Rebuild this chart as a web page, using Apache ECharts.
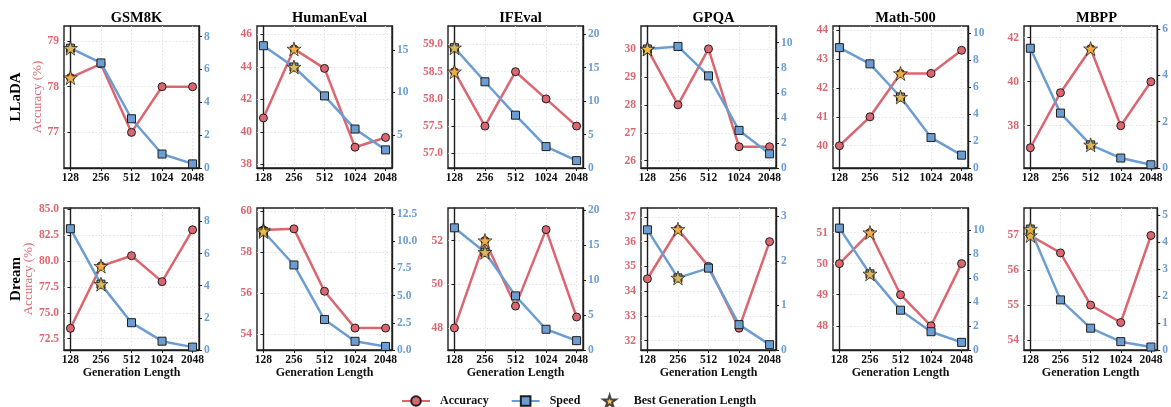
<!DOCTYPE html>
<html><head><meta charset="utf-8">
<script src="https://cdn.jsdelivr.net/npm/echarts@6/dist/echarts.min.js"></script>
<style>html,body{margin:0;padding:0;background:#fff}#c{width:1171px;height:407px}</style>
</head><body><div id="c"></div>
<script>
// ---------------- DATA ----------------
const genLengths = ['128', '256', '512', '1024', '2048'];
const benchmarks = ['GSM8K', 'HumanEval', 'IFEval', 'GPQA', 'Math-500', 'MBPP'];
const models = ['LLaDA', 'Dream'];

// LLaDA accuracy (%) and speed
const lladaGsm8kAcc = [78.2, 78.5, 77.0, 78.0, 78.0];
const lladaGsm8kSpeed = [7.3, 6.4, 3.0, 0.85, 0.25];
const lladaHumanevalAcc = [40.85, 45.1, 43.9, 39.05, 39.65];
const lladaHumanevalSpeed = [15.5, 13.0, 9.6, 5.7, 3.25];
const lladaIfevalAcc = [58.5, 57.5, 58.5, 58.0, 57.5];
const lladaIfevalSpeed = [18.0, 12.9, 7.9, 3.2, 1.1];
const lladaGpqaAcc = [30.0, 28.0, 30.0, 26.5, 26.5];
const lladaGpqaSpeed = [9.5, 9.7, 7.35, 3.0, 1.13];
const lladaMathAcc = [40.0, 41.0, 42.5, 42.5, 43.3];
const lladaMathSpeed = [8.9, 7.7, 5.25, 2.25, 0.95];
const lladaMbppAcc = [37.0, 39.5, 41.5, 38.0, 40.0];
const lladaMbppSpeed = [5.17, 2.37, 1.0, 0.43, 0.14];

// Dream accuracy (%) and speed
const dreamGsm8kAcc = [73.5, 79.5, 80.5, 78.0, 83.0];
const dreamGsm8kSpeed = [7.55, 4.1, 1.7, 0.55, 0.18];
const dreamHumanevalAcc = [59.1, 59.15, 56.1, 54.3, 54.3];
const dreamHumanevalSpeed = [10.9, 7.82, 2.8, 0.8, 0.33];
const dreamIfevalAcc = [48.0, 52.0, 49.0, 52.5, 48.5];
const dreamIfevalSpeed = [17.5, 14.0, 7.75, 2.97, 1.34];
const dreamGpqaAcc = [34.5, 36.5, 35.0, 32.5, 36.0];
const dreamGpqaSpeed = [2.7, 1.62, 1.84, 0.57, 0.12];
const dreamMathAcc = [50.0, 51.0, 49.0, 48.0, 50.0];
const dreamMathSpeed = [10.2, 6.37, 3.33, 1.53, 0.64];
const dreamMbppAcc = [57.0, 56.5, 55.0, 54.5, 57.0];
const dreamMbppSpeed = [4.49, 1.86, 0.81, 0.31, 0.11];

// index of best generation length per benchmark
const lladaBest = [0, 1, 0, 0, 2, 2];
const dreamBest = [1, 0, 1, 1, 1, 0];

// tick labels
const lladaAccTicks = [[77, 78, 79], [38, 40, 42, 44, 46], [57.0, 57.5, 58.0, 58.5, 59.0], [26, 27, 28, 29, 30], [40, 41, 42, 43, 44], [38, 40, 42]];
const lladaSpeedTicks = [[0, 2, 4, 6, 8], [5, 10, 15], [0, 5, 10, 15, 20], [0, 2, 4, 6, 8, 10], [0, 2, 4, 6, 8, 10], [0, 2, 4, 6]];
const dreamAccTicks = [[72.5, 75.0, 77.5, 80.0, 82.5, 85.0], [54, 56, 58, 60], [48, 50, 52], [32, 33, 34, 35, 36, 37], [48, 49, 50, 51], [54, 55, 56, 57]];
const dreamSpeedTicks = [[0, 2, 4, 6, 8], [0.0, 2.5, 5.0, 7.5, 10.0, 12.5], [0, 5, 10, 15, 20], [0, 1, 2, 3], [0, 2, 4, 6, 8, 10], [0, 1, 2, 3, 4, 5]];

// ---------------- AXIS RANGES / LAYOUT ----------------
const lladaAccRange = [[76.22, 79.33], [37.77, 46.51], [56.73, 59.34], [25.74, 30.82], [39.23, 44.14], [36.08, 42.53]];
const lladaSpeedRange = [[0, 8.65], [1.12, 17.82], [0, 21.24], [0, 11.33], [0, 10.5], [0, 6.13]];
const dreamAccRange = [[71.41, 85.1], [53.23, 60.17], [46.99, 53.49], [31.62, 37.36], [47.22, 51.79], [53.71, 57.79]];
const dreamSpeedRange = [[0, 8.84], [0, 13.06], [0, 20.34], [0, 3.19], [0, 11.88], [0, 5.27]];

const gridLefts = [64, 257, 448, 641, 833, 1024];
const gridTops = [26, 208];
const gridW = 135, gridH = 142;

const RED = '#DC6670', BLUE = '#6B9DD3', GOLD = '#F7BE3C', INK = '#1e1e1e';
const FONT = 'Liberation Serif';

function starPath() {
  let s = 'path://';
  for (let k = 0; k < 10; k++) {
    const r = k % 2 === 0 ? 50 : 19.1;
    const a = -Math.PI / 2 + k * Math.PI / 5;
    s += (k ? 'L' : 'M') + (50 + r * Math.cos(a)).toFixed(2) + ' ' + (50 + r * Math.sin(a)).toFixed(2);
  }
  return s + 'Z';
}
const STAR = starPath();

const panels = [
  { acc: lladaGsm8kAcc, spd: lladaGsm8kSpeed },
  { acc: lladaHumanevalAcc, spd: lladaHumanevalSpeed },
  { acc: lladaIfevalAcc, spd: lladaIfevalSpeed },
  { acc: lladaGpqaAcc, spd: lladaGpqaSpeed },
  { acc: lladaMathAcc, spd: lladaMathSpeed },
  { acc: lladaMbppAcc, spd: lladaMbppSpeed },
  { acc: dreamGsm8kAcc, spd: dreamGsm8kSpeed },
  { acc: dreamHumanevalAcc, spd: dreamHumanevalSpeed },
  { acc: dreamIfevalAcc, spd: dreamIfevalSpeed },
  { acc: dreamGpqaAcc, spd: dreamGpqaSpeed },
  { acc: dreamMathAcc, spd: dreamMathSpeed },
  { acc: dreamMbppAcc, spd: dreamMbppSpeed }
];

const grid = [], xAxis = [], yAxis = [], series = [], title = [];
const xIdx = genLengths.map((_, i) => i);

function fmtTicks(ticks) {
  const dec = ticks.some(t => !Number.isInteger(t)) ? 1 : 0;
  return v => Number(v).toFixed(dec);
}

panels.forEach((p, k) => {
  const row = k < 6 ? 0 : 1, col = k % 6;
  const best = row === 0 ? lladaBest[col] : dreamBest[col];
  const accTicks = row === 0 ? lladaAccTicks[col] : dreamAccTicks[col];
  const spdTicks = row === 0 ? lladaSpeedTicks[col] : dreamSpeedTicks[col];
  const accRange = row === 0 ? lladaAccRange[col] : dreamAccRange[col];
  const spdRange = row === 0 ? lladaSpeedRange[col] : dreamSpeedRange[col];

  grid.push({ left: gridLefts[col], top: gridTops[row], width: gridW, height: gridH,
    show: true, borderColor: INK, borderWidth: 1.4, backgroundColor: 'transparent' });

  if (row === 0) {
    title.push({ text: benchmarks[col], left: gridLefts[col] + gridW / 2, top: 6, textAlign: 'center',
      textStyle: { fontFamily: FONT, fontWeight: 'bold', fontSize: 14.5, color: '#000' } });
  }

  xAxis.push({
    type: 'value', gridIndex: k, min: -0.21, max: 4.21,
    name: row === 1 ? 'Generation Length' : '', nameLocation: 'middle', nameGap: 15,
    nameTextStyle: { fontFamily: FONT, fontWeight: 'bold', fontSize: 12, color: '#111' },
    axisLine: { show: true, onZero: false, lineStyle: { color: INK, width: 1.4 } },
    axisTick: { show: true, length: 3, customValues: xIdx, lineStyle: { color: INK } },
    axisLabel: { customValues: xIdx, margin: 4, formatter: v => genLengths[Math.round(v)],
      fontFamily: FONT, fontWeight: 'bold', fontSize: 11.5, color: '#111' },
    splitLine: { show: true, lineStyle: { color: '#dddddd', width: 0.8, type: [1.5, 2] } }
  });

  yAxis.push({
    type: 'value', gridIndex: k, position: 'left', min: accRange[0], max: accRange[1],
    name: col === 0 ? 'Accuracy (%)' : '', nameLocation: 'middle', nameRotate: 90,
    nameGap: row === 0 ? 18 : 27,
    nameTextStyle: { fontFamily: FONT, fontSize: 13, color: RED },
    axisLine: { show: true, lineStyle: { color: INK, width: 1.4 } },
    axisTick: { show: true, length: 3, customValues: accTicks, lineStyle: { color: INK } },
    axisLabel: { customValues: accTicks, margin: 5, formatter: fmtTicks(accTicks),
      fontFamily: FONT, fontWeight: 'bold', fontSize: 11.5, color: RED },
    splitLine: { show: true, lineStyle: { color: '#dddddd', width: 0.8, type: [1.5, 2] } }
  });
  yAxis.push({
    type: 'value', gridIndex: k, position: 'right', min: spdRange[0], max: spdRange[1],
    axisLine: { show: true, lineStyle: { color: INK, width: 1.4 } },
    axisTick: { show: true, length: 3, customValues: spdTicks, lineStyle: { color: INK } },
    axisLabel: { customValues: spdTicks, margin: 5, formatter: fmtTicks(spdTicks),
      fontFamily: FONT, fontWeight: 'bold', fontSize: 11.5, color: BLUE },
    splitLine: { show: false }
  });

  series.push({
    type: 'line', name: 'Accuracy', xAxisIndex: k, yAxisIndex: 2 * k,
    data: p.acc.map((v, i) => [i, v]), symbol: 'circle', symbolSize: 8,
    lineStyle: { color: RED, width: 2.5 }, itemStyle: { color: RED, borderColor: INK, borderWidth: 1 }, z: 3
  });
  series.push({
    type: 'line', name: 'Speed', xAxisIndex: k, yAxisIndex: 2 * k + 1,
    data: p.spd.map((v, i) => [i, v]), symbol: 'rect', symbolSize: 8,
    lineStyle: { color: BLUE, width: 2.5 }, itemStyle: { color: BLUE, borderColor: INK, borderWidth: 1 }, z: 4
  });
  series.push({
    type: 'scatter', name: 'Best Generation Length', xAxisIndex: k, yAxisIndex: 2 * k,
    data: [[best, p.acc[best]]], symbol: STAR, symbolSize: 14,
    itemStyle: { color: GOLD, borderColor: INK, borderWidth: 0.9 }, z: 6
  });
  series.push({
    type: 'scatter', name: 'Best Generation Length', xAxisIndex: k, yAxisIndex: 2 * k + 1,
    data: [[best, p.spd[best]]], symbol: STAR, symbolSize: 14,
    itemStyle: { color: GOLD, borderColor: INK, borderWidth: 0.9 }, z: 6
  });
});

const graphic = models.map((m, r) => ({
  type: 'text', x: 16, y: gridTops[r] + gridH / 2, rotation: Math.PI / 2,
  style: { text: m, font: 'bold 15px "Liberation Serif"', fill: '#000', align: 'center', verticalAlign: 'middle' }
}));

const chart = echarts.init(document.getElementById('c'), null, { renderer: 'canvas' });
chart.setOption({
  animation: false,
  backgroundColor: '#fff',
  title, grid, xAxis, yAxis, series, graphic,
  legend: {
    data: ['Accuracy', 'Speed', 'Best Generation Length'],
    left: 396, top: 389, itemWidth: 28, itemHeight: 12, itemGap: 22,
    textStyle: { fontFamily: FONT, fontWeight: 'bold', fontSize: 12, color: '#111', padding: [0, 0, 0, 5] }
  }
});
</script>
</body></html>
